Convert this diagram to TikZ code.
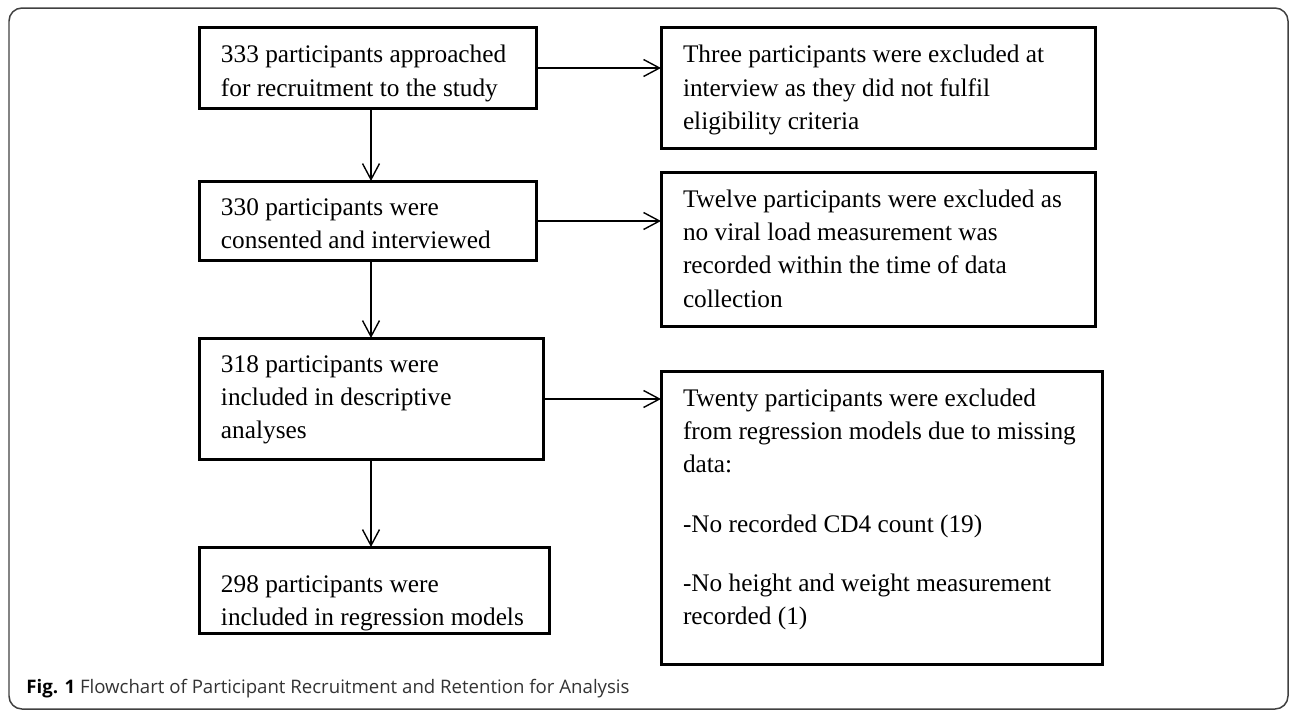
\documentclass[tikz,border=0pt]{standalone}
\usepackage{fontspec}
\setmainfont{Liberation Serif}
\newfontfamily\capfont{Open Sans}
\usetikzlibrary{arrows.meta}

\begin{document}
\begin{tikzpicture}[x=0.02cm,y=-0.02cm,
  flowbox/.style={draw=black,line width=0.06cm,outer sep=0pt,anchor=north west,align=flush left,
    inner xsep=0.44cm,inner ysep=0pt,font=\fontsize{14.4}{19}\selectfont},
  flowarrow/.style={line width=0.028cm,-{Straight Barb[length=0.32cm,width=0.34cm]}}]
 \useasboundingbox (0,0) rectangle (1290,711);
 \draw[black!75,line width=0.03cm,rounded corners=0.26cm](9,8) rectangle (1288,709);
 \coordinate (spine) at (371,0);
 \node[flowbox,text width=5.88cm,text height=0.72cm,text depth=0.92cm] (n333) at (199,27) {333 participants approached\\for recruitment to the study};
 \node[flowbox,text width=5.88cm,text height=0.68cm,text depth=0.92cm] (n330) at (199,181) {330 participants were\\consented and interviewed};
 \node[flowbox,text width=6.02cm,text height=0.68cm,text depth=1.76cm] (n318) at (199,338) {318 participants were\\included in descriptive\\analyses};
 \node[flowbox,text width=6.14cm,text height=0.90cm,text depth=0.84cm] (n298) at (199,547) {298 participants were\\included in regression models};
 \node[flowbox,text width=7.82cm,text height=0.72cm,text depth=1.72cm] (exThree) at (661,27) {Three participants were excluded at\\interview as they did not fulfil\\eligibility criteria};
 \node[flowbox,text width=7.82cm,text height=0.70cm,text depth=2.40cm] (exTwelve) at (661,172) {Twelve participants were excluded as\\no viral load measurement was\\recorded within the time of data\\collection};
 \node[flowbox,text width=7.96cm,text height=0.70cm,text depth=5.18cm] (exTwenty) at (661,371) {Twenty participants were excluded\\from regression models due to missing\\data:\\[14.8pt]-No recorded CD4 count (19)\\[14.8pt]-No height and weight measurement\\recorded (1)};
 \draw[flowarrow](n333.south -| spine) -- (n330.north -| spine);
 \draw[flowarrow](n330.south -| spine) -- (n318.north -| spine);
 \draw[flowarrow](n318.south -| spine) -- (n298.north -| spine);
 \draw[flowarrow](n333.east) -- (n333.east -| exThree.west);
 \draw[flowarrow](n330.east) -- (n330.east -| exTwelve.west);
 \draw[flowarrow](n318.east) -- (n318.east -| exTwenty.west);
 \node[anchor=base west,inner sep=0pt,font=\capfont\fontsize{10.6}{12}\selectfont] (caption) at (26,693) {\textbf{Fig. 1} {\color{black!80}Flowchart of Participant Recruitment and Retention for Analysis}};
\end{tikzpicture}
\end{document}
